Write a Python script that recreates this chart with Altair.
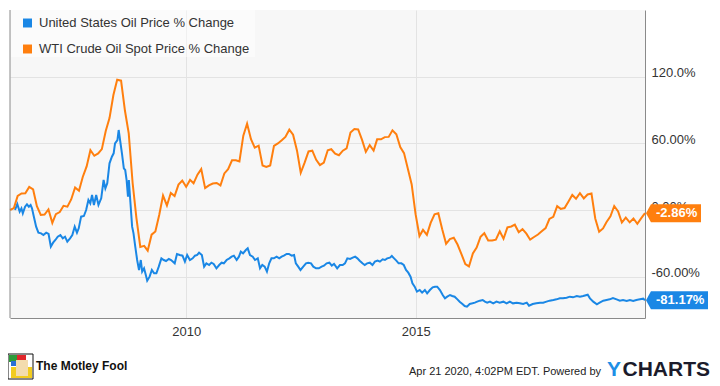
import altair as alt
import pandas as pd

# ---------------- data ----------------
series_names = ["United States Oil Price % Change", "WTI Crude Oil Spot Price % Change"]
series_colors = ["#1a87e5", "#ff7f0e"]

# WTI crude oil spot, monthly % change since Feb 2006 (Feb 2006 .. Dec 2019)
wti_pct = [
    0.0, 1.7, 12.7, 14.9, 15.1, 20.7, 18.5, 3.5, -4.4, -4.1, 0.5,
    -11.6, -3.8, -1.9, 3.8, 3.0, 9.5, 20.3, 17.4, 29.7, 39.2, 53.8, 48.8,
    50.9, 54.8, 71.1, 82.7, 103.5, 117.2, 116.4, 89.3, 68.9, 24.3, -7.0, -33.3,
    -32.3, -36.6, -22.2, -19.4, -4.2, 13.0, 4.1, 15.3, 12.6, 22.9, 26.5, 20.8,
    27.1, 24.0, 31.8, 36.8, 19.7, 22.2, 23.8, 24.3, 22.1, 32.9, 36.7, 44.7,
    44.7, 43.7, 66.9, 77.7, 63.7, 56.2, 57.9, 40.1, 38.8, 40.1, 57.7, 59.9,
    62.7, 65.8, 72.3, 67.7, 53.6, 33.5, 42.6, 52.7, 53.4, 45.2, 40.4, 42.6,
    53.8, 54.7, 50.8, 49.3, 53.4, 55.4, 69.8, 72.9, 72.5, 63.1, 52.3, 58.4,
    53.5, 63.6, 63.6, 65.6, 65.8, 71.7, 68.1, 56.6, 51.2, 37.0, 23.0, -3.8,
    -23.4, -17.9, -22.4, -11.6, -3.8, -2.9, -17.4, -30.4, -26.2, -25.0, -31.1, -39.7,
    -48.6, -50.8, -39.1, -33.9, -24.2, -20.9, -27.5, -27.4, -26.7, -19.2, -25.9, -15.7,
    -14.8, -13.2, -20.0, -17.2, -21.3, -26.7, -24.3, -22.1, -19.2, -16.3, -8.1, -6.1,
    3.4, 1.0, 1.8, 7.5, 13.5, 10.1, 15.2, 10.4, 14.0, 14.8, -7.6, -19.6,
    -16.6, -10.8, -5.6, 3.6, -1.3, -11.3, -6.9, -11.1, -7.6, -12.4, -7.5, -2.86,
]
wti_start = "2006-02-28"

# United States Oil fund, % change (time as decimal year)
uso_t = [
    2006.27, 2006.32, 2006.37, 2006.41, 2006.44, 2006.49, 2006.53, 2006.57, 2006.61, 2006.64, 2006.68, 2006.73, 2006.78, 2006.84, 2006.89, 2006.95,
    2007.00, 2007.05, 2007.10, 2007.15, 2007.20, 2007.26, 2007.31, 2007.36, 2007.41, 2007.47, 2007.52, 2007.57, 2007.62, 2007.66, 2007.71, 2007.77, 2007.82, 2007.87, 2007.91, 2007.95, 2007.99,
    2008.04, 2008.09, 2008.15, 2008.20, 2008.24, 2008.28, 2008.33, 2008.38, 2008.42, 2008.45, 2008.50, 2008.53, 2008.56, 2008.60, 2008.64, 2008.67, 2008.70, 2008.73, 2008.75, 2008.78, 2008.82, 2008.85, 2008.89, 2008.93, 2008.97,
    2009.01, 2009.04, 2009.08, 2009.12, 2009.15, 2009.20, 2009.25, 2009.30, 2009.35, 2009.40, 2009.46, 2009.51, 2009.56, 2009.62, 2009.67, 2009.75, 2009.80, 2009.86, 2009.92, 2009.97,
    2010.02, 2010.08, 2010.14, 2010.19, 2010.24, 2010.28, 2010.34, 2010.39, 2010.44, 2010.50, 2010.55, 2010.60, 2010.66, 2010.72, 2010.77, 2010.82, 2010.88, 2010.94, 2010.99,
    2011.04, 2011.10, 2011.15, 2011.19, 2011.24, 2011.30, 2011.34, 2011.39, 2011.45, 2011.50, 2011.56, 2011.61, 2011.66, 2011.71, 2011.76, 2011.81, 2011.86, 2011.91, 2011.97,
    2012.03, 2012.08, 2012.13, 2012.19, 2012.24, 2012.30, 2012.35, 2012.39, 2012.44, 2012.49, 2012.55, 2012.61, 2012.66, 2012.72, 2012.77, 2012.83, 2012.89, 2012.95,
    2013.00, 2013.06, 2013.12, 2013.17, 2013.22, 2013.29, 2013.35, 2013.41, 2013.46, 2013.51, 2013.57, 2013.63, 2013.68, 2013.73, 2013.78, 2013.84, 2013.89, 2013.94,
    2014.00, 2014.06, 2014.11, 2014.17, 2014.22, 2014.28, 2014.33, 2014.38, 2014.44, 2014.48, 2014.53, 2014.58, 2014.63, 2014.69, 2014.74, 2014.79, 2014.84, 2014.89, 2014.93, 2014.98,
    2015.03, 2015.09, 2015.14, 2015.20, 2015.25, 2015.31, 2015.37, 2015.42, 2015.47, 2015.53, 2015.59, 2015.64, 2015.69, 2015.75, 2015.80, 2015.85, 2015.91, 2015.96,
    2016.02, 2016.07, 2016.12, 2016.18, 2016.24, 2016.29, 2016.34, 2016.40, 2016.46, 2016.51, 2016.56, 2016.62, 2016.69, 2016.76, 2016.83, 2016.91, 2016.98,
    2017.05, 2017.12, 2017.20, 2017.27, 2017.34, 2017.42, 2017.47, 2017.55, 2017.63, 2017.71, 2017.78, 2017.85, 2017.92,
    2018.00, 2018.07, 2018.14, 2018.21, 2018.29, 2018.36, 2018.43, 2018.51, 2018.58, 2018.65, 2018.75, 2018.80, 2018.87, 2018.95,
    2019.01, 2019.09, 2019.16, 2019.23, 2019.30, 2019.38, 2019.45, 2019.52, 2019.60, 2019.67, 2019.74, 2019.81, 2019.89, 2019.96, 2019.999,
]
uso_pct = [
    0.0, 5.4, -1.5, 1.5, -3.0, 3.0, 5.1, 3.0, 4.5, 1.5, -6.0, -15.0, -20.4, -21.0, -22.5, -20.4,
    -21.6, -33.0, -29.4, -27.0, -24.0, -22.5, -25.5, -24.0, -28.5, -25.5, -22.5, -15.0, -20.4, -16.5, -6.0, -5.4, 0.0, 9.0, 6.0, 13.5, 4.5,
    13.5, 4.5, 10.5, 27.0, 19.5, 24.0, 42.0, 48.0, 51.0, 60.0, 63.0, 72.0, 63.0, 51.0, 37.5, 36.0, 27.0, 12.0, 27.0, 9.0, -15.0, -21.0, -33.0, -45.0, -54.0,
    -45.0, -55.5, -52.5, -58.5, -63.6, -60.0, -54.0, -57.0, -57.0, -51.0, -43.5, -45.0, -45.9, -44.1, -45.0, -48.0, -39.6, -40.5, -41.1, -46.5,
    -40.5, -45.0, -43.5, -41.1, -40.5, -38.4, -40.5, -51.0, -48.0, -49.5, -47.4, -48.6, -52.5, -49.5, -47.4, -48.0, -45.0, -43.5, -42.0,
    -41.1, -45.0, -42.0, -37.5, -39.0, -36.0, -34.5, -40.5, -42.0, -45.0, -43.5, -52.5, -49.5, -51.0, -55.5, -48.0, -43.5, -43.5, -42.0,
    -43.5, -42.0, -41.1, -39.6, -39.6, -41.1, -40.5, -48.0, -51.0, -54.0, -51.0, -48.0, -47.4, -48.0, -51.0, -52.5, -52.5, -51.0,
    -50.1, -48.0, -47.4, -50.1, -48.6, -52.5, -49.5, -49.5, -48.0, -43.5, -44.1, -42.9, -42.0, -43.5, -45.6, -48.0, -49.5, -48.0,
    -47.4, -49.5, -46.5, -45.6, -46.5, -44.4, -45.0, -43.5, -42.9, -41.4, -43.5, -45.6, -48.0, -48.0, -49.5, -54.0, -56.4, -60.0, -66.0, -69.0,
    -73.5, -72.0, -74.4, -72.0, -75.0, -72.0, -69.6, -69.0, -69.0, -72.0, -76.5, -79.5, -78.0, -76.5, -77.4, -78.0, -80.4, -82.5,
    -84.6, -86.4, -87.0, -84.6, -84.0, -83.4, -82.5, -81.6, -81.0, -82.5, -83.4, -82.5, -84.0, -82.5, -83.4, -82.5, -84.0,
    -82.5, -84.0, -83.4, -84.0, -84.6, -83.4, -86.1, -84.6, -84.0, -83.4, -83.4, -82.5, -81.6,
    -81.0, -80.4, -79.5, -79.5, -78.9, -78.0, -78.6, -77.4, -78.0, -77.4, -76.2, -79.5, -82.5, -84.9,
    -83.4, -81.6, -81.0, -80.4, -79.2, -80.4, -81.6, -81.0, -81.9, -81.0, -81.9, -81.0, -80.4, -79.8, -81.17,
]

end_values = [-81.17, -2.86]
end_labels = ["-81.17%", "-2.86%"]

y_tick_values = [-60, 0, 60, 120]
y_tick_labels = ["-60.00%", "0.00%", "60.00%", "120.0%"]
x_tick_years = [2010, 2015]

footer_brand = "The Motley Fool"
footer_stamp = "Apr 21 2020, 4:02PM EDT.  Powered by"
footer_logo = ["Y", "CHARTS"]

# ---------------- build tables ----------------
assert len(uso_t) == len(uso_pct)


def to_date(t):
    y = int(t)
    s = pd.Timestamp(year=y, month=1, day=1)
    e = pd.Timestamp(year=y + 1, month=1, day=1)
    return (s + (e - s) * (t - y)).strftime("%Y-%m-%d")


try:
    wti_dates = pd.date_range(wti_start, periods=len(wti_pct), freq="ME")
except Exception:
    wti_dates = pd.date_range(wti_start, periods=len(wti_pct), freq="M")

df = pd.concat([
    pd.DataFrame({"date": [to_date(t) for t in uso_t], "value": uso_pct, "series": series_names[0]}),
    pd.DataFrame({"date": wti_dates.strftime("%Y-%m-%d"), "value": wti_pct, "series": series_names[1]}),
], ignore_index=True)

tags = pd.DataFrame({"value": end_values, "label": end_labels, "series": series_names})
one = pd.DataFrame({"k": [0]})

FONT = "Liberation Sans, Arial, Helvetica, sans-serif"
W, H = 635, 308

label_expr = " : ".join(
    f"datum.value == {v} ? '{l}'" for v, l in zip(y_tick_values, y_tick_labels)
) + " : ''"

xscale = alt.Scale(type="utc",
                   domain=[alt.DateTime(year=2006, month=2, date=28, utc=True),
                           alt.DateTime(year=2019, month=12, date=31, utc=True)])
yscale = alt.Scale(domain=[-97.2, 180], nice=False, zero=False)

xaxis = alt.Axis(values=[alt.DateTime(year=y, month=1, date=1, utc=True) for y in x_tick_years],
                 format="%Y", formatType="utc", grid=True, gridColor="#e3e3e3", ticks=False,
                 domainColor="#8a8a8a", labelFontSize=13, labelColor="#333333", labelFont=FONT,
                 labelPadding=7, labelFlush=False, title=None)
yaxis = alt.Axis(orient="right", values=y_tick_values, labelExpr=label_expr, grid=True,
                 gridColor="#e3e3e3", ticks=False, domainColor="#8a8a8a", labelFontSize=13,
                 labelColor="#333333", labelFont=FONT, labelPadding=6, labelBaseline="alphabetic",
                 labelFlush=False, title=None)

X = alt.X("date:T", scale=xscale, axis=xaxis, title=None)
Y = alt.Y("value:Q", scale=yscale, axis=yaxis, title=None)

legend_box = alt.Chart(one).mark_rect(fill="white", opacity=0.45).encode(
    x=alt.value(1), x2=alt.value(245), y=alt.value(0), y2=alt.value(47))

lines = alt.Chart(df).mark_line(strokeWidth=2).encode(
    x=X, y=Y,
    color=alt.Color("series:N",
                    scale=alt.Scale(domain=series_names, range=series_colors),
                    legend=alt.Legend(title=None, orient="none", legendX=11, legendY=6.5,
                                      symbolType="square", symbolSize=20, symbolStrokeWidth=4.5,
                                      symbolOpacity=1,
                                      labelFontSize=13, labelColor="#333333", labelFont=FONT,
                                      rowPadding=3, labelOffset=5, padding=0, labelLimit=400)),
)

left_border = alt.Chart(one).mark_rule(color="#8a8a8a", strokeWidth=1).encode(
    x=alt.value(0), y=alt.value(0), y2=alt.value(H))

blue_path = "M -1 0 L -0.84 -0.29 L 1 -0.29 L 1 0.29 L -0.84 0.29 Z"
orange_path = "M -1 0 L -0.82 -0.327 L 1 -0.327 L 1 0.327 L -0.82 0.327 Z"

tag_blue = alt.Chart(tags.iloc[[0]]).mark_point(
    shape=blue_path, size=62 * 62, filled=True, color=series_colors[0], opacity=1, strokeWidth=0
).encode(x=alt.value(667), y=Y)
tag_orange = alt.Chart(tags.iloc[[1]]).mark_point(
    shape=orange_path, size=55 * 55, filled=True, color=series_colors[1], opacity=1, strokeWidth=0
).encode(x=alt.value(663.5), y=Y)
tag_text = alt.Chart(tags).mark_text(
    align="left", baseline="middle", color="white", fontWeight="bold", fontSize=13, font=FONT
).encode(x=alt.value(646), y=Y, text="label:N")

# footer: logo box
logo_parts = [
    (-2, 23, 344, 369, "white", "#111111"),
    (-1, 7, 345, 352, "#2e9b3a", None),
    (7, 16, 345, 351, "#e0262b", None),
    (1, 22, 357, 368, "#f2cc1f", None),
    (6, 18, 350, 366, "#f3dcae", None),
    (1, 6, 351, 356, "#2a6fd6", None),
]
logo_layers = []
for x1, x2, y1, y2, fill, stroke in logo_parts:
    kw = dict(fill=fill)
    if stroke:
        kw.update(stroke=stroke, strokeWidth=1)
    logo_layers.append(alt.Chart(one).mark_rect(**kw).encode(
        x=alt.value(x1), x2=alt.value(x2), y=alt.value(y1), y2=alt.value(y2)))

brand_text = alt.Chart(one).mark_text(
    text=footer_brand, align="left", baseline="alphabetic", fontSize=12, fontWeight="bold",
    font="Liberation Sans Narrow, Arial Narrow, " + FONT, color="#111111"
).encode(x=alt.value(26), y=alt.value(360))
stamp_text = alt.Chart(one).mark_text(
    text=footer_stamp, align="right", baseline="alphabetic", fontSize=11, font=FONT, color="#222222"
).encode(x=alt.value(591), y=alt.value(365))
y_text = alt.Chart(one).mark_text(
    text=footer_logo[0], align="left", baseline="alphabetic", fontSize=21, fontWeight="bold",
    font=FONT, color="#1e8fe6"
).encode(x=alt.value(597), y=alt.value(366))
charts_text = alt.Chart(one).mark_text(
    text=footer_logo[1], align="right", baseline="alphabetic", fontSize=21, fontWeight="bold",
    font=FONT, color="#1b1b2b"
).encode(x=alt.value(700), y=alt.value(366))

chart = alt.layer(
    legend_box, lines, left_border, tag_orange, tag_blue, tag_text,
    *logo_layers, brand_text, stamp_text, y_text, charts_text
).properties(
    width=W, height=H,
    autosize=alt.AutoSizeParams(type="none"),
    padding={"left": 2, "top": 2, "right": 66, "bottom": 64},
    background="white",
).configure_view(
    fill="#f7f7f7", stroke=None
)

chart.save("out.html", embed_options={"renderer": "svg", "actions": False})
